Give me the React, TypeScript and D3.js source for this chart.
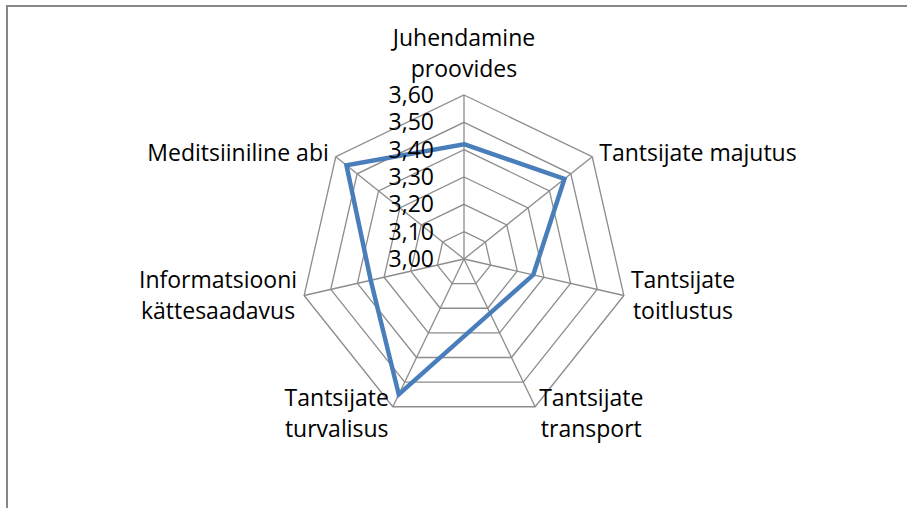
import { useEffect, useRef } from "react";
import * as d3 from "d3";

const categories: string[][] = [
  ["Juhendamine", "proovides"],
  ["Tantsijate majutus"],
  ["Tantsijate", "toitlustus"],
  ["Tantsijate", "transport"],
  ["Tantsijate", "turvalisus"],
  ["Informatsiooni", "kättesaadavus"],
  ["Meditsiiniline abi"],
];
const values = [3.42, 3.47, 3.26, 3.22, 3.55, 3.35, 3.55];
const ticks = [3.0, 3.1, 3.2, 3.3, 3.4, 3.5, 3.6];
const tickLabels = ["3,00", "3,10", "3,20", "3,30", "3,40", "3,50", "3,60"];

const FONT = "'Open Sans', 'Noto Sans', sans-serif";
const FONT_SIZE = "23px";

export default function App() {
  const svgRef = useRef<SVGSVGElement>(null);

  useEffect(() => {
    const svg = d3.select(svgRef.current);
    svg.selectAll("*").remove();

    const cx = 464;
    const cy = 259;
    const R = 164;
    const n = categories.length;

    // frame
    svg
      .append("rect")
      .attr("x", 7)
      .attr("y", 6)
      .attr("width", 1000)
      .attr("height", 600)
      .attr("fill", "white")
      .attr("stroke", "#878787")
      .attr("stroke-width", 2);

    const r = d3.scaleLinear().domain([3.0, 3.6]).range([0, R]);
    const angle = (i: number) => (i * 2 * Math.PI) / n;
    const pt = (i: number, rad: number): [number, number] => [
      cx + rad * Math.sin(angle(i)),
      cy - rad * Math.cos(angle(i)),
    ];

    const g = svg.append("g");

    // grid rings
    ticks.slice(1).forEach((t) => {
      const pts = d3.range(n).map((i) => pt(i, r(t)));
      g.append("path")
        .attr("d", d3.line()(pts) + "Z")
        .attr("fill", "none")
        .attr("stroke", "#8c8c8c")
        .attr("stroke-width", 1.3);
    });

    // spokes
    d3.range(n).forEach((i) => {
      const [x, y] = pt(i, R);
      g.append("line")
        .attr("x1", cx)
        .attr("y1", cy)
        .attr("x2", x)
        .attr("y2", y)
        .attr("stroke", "#8c8c8c")
        .attr("stroke-width", 1.3);
    });

    // data series
    const dataPts = values.map((v, i) => pt(i, r(v)));
    g.append("path")
      .attr("d", d3.line()(dataPts) + "Z")
      .attr("fill", "none")
      .attr("stroke", "#4a7ebb")
      .attr("stroke-width", 4.5)
      .attr("stroke-linejoin", "miter");

    // tick labels
    ticks.forEach((t, k) => {
      g.append("text")
        .attr("x", cx - 30)
        .attr("y", cy - r(t) + 8)
        .attr("text-anchor", "end")
        .style("font-family", FONT)
        .style("font-size", FONT_SIZE)
        .attr("fill", "#000")
        .text(tickLabels[k]);
    });

    // category labels
    categories.forEach((lines, i) => {
      const [vx, vy] = pt(i, R);
      const s = Math.sin(angle(i));
      const c = Math.cos(angle(i));
      const lab = g.append("g");
      const texts = lines.map((ln) =>
        lab
          .append("text")
          .attr("text-anchor", "middle")
          .style("font-family", FONT)
          .style("font-size", FONT_SIZE)
          .attr("fill", "#000")
          .text(ln)
      );
      const widths = texts.map((t) => (t.node() as SVGTextElement).getComputedTextLength());
      const w = Math.max(...widths);
      let centerX = vx;
      let firstBase = vy;
      const lh = 31;
      if (Math.abs(s) < 0.1) {
        centerX = vx;
        firstBase = vy - 18 - (lines.length - 1) * lh;
      } else if (c < -0.5) {
        // bottom
        centerX = s > 0 ? vx + 4 + w / 2 : vx - 4 - w / 2;
        firstBase = vy - 1;
      } else {
        centerX = s > 0 ? vx + 7 + w / 2 : vx - 7 - w / 2;
        firstBase = lines.length === 1 ? vy + 4 : vy - 7;
      }
      texts.forEach((t, k) => {
        t.attr("x", centerX).attr("y", firstBase + k * lh);
      });
    });
  }, []);

  return (
    <svg
      ref={svgRef}
      width={907}
      height={508}
      style={{ position: "absolute", left: 0, top: 0, display: "block" }}
    />
  );
}
